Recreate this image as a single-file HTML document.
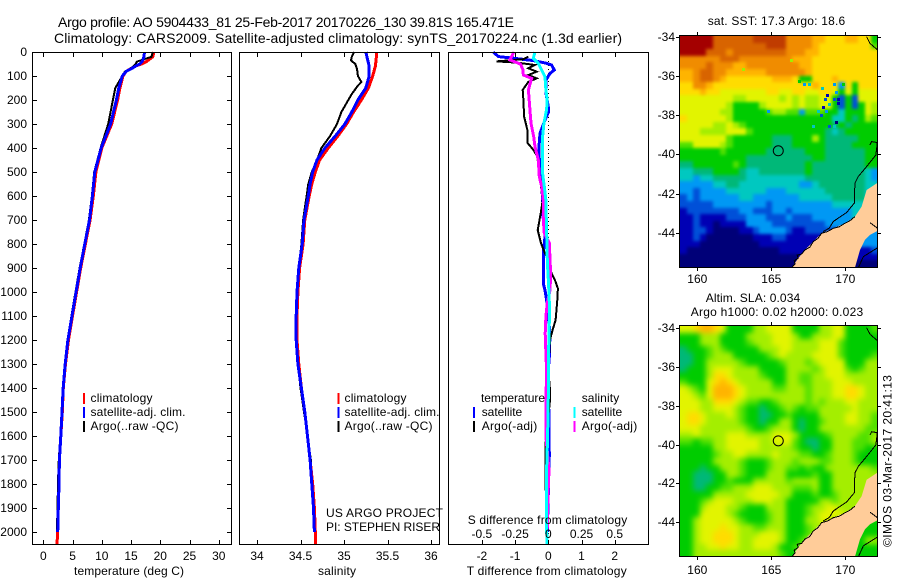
<!DOCTYPE html>
<html>
<head>
<meta charset="utf-8">
<title>Argo profile</title>
<style>
html,body{margin:0;padding:0;background:#fff;}
svg{display:block;}
text{font-family:"Liberation Sans",sans-serif;font-size:12px;fill:#000;}
.t14{font-size:14px;}
</style>
</head>
<body>
<svg id="chart" xmlns="http://www.w3.org/2000/svg" width="900" height="580" viewBox="0 0 900 580">
<defs>
<clipPath id="clip-sst"><rect x="680" y="35" width="198" height="232"/></clipPath>
<clipPath id="clip-sla"><rect x="680" y="326" width="198" height="231"/></clipPath>
<filter id="blur-sst" x="-10%" y="-10%" width="120%" height="120%" color-interpolation-filters="sRGB"><feGaussianBlur stdDeviation="1.6"/></filter>
<filter id="blur-sla" x="-10%" y="-10%" width="120%" height="120%" color-interpolation-filters="sRGB"><feGaussianBlur stdDeviation="2.8"/></filter>
</defs>
<rect x="0" y="0" width="900" height="580" fill="#fff"/>

<text class="t14" x="58" y="27" textLength="456">Argo profile: AO 5904433_81 25-Feb-2017 20170226_130 39.81S 165.471E</text>
<text class="t14" x="54" y="43" textLength="568">Climatology: CARS2009. Satellite-adjusted climatology: synTS_20170224.nc (1.3d earlier)</text>

<g id="marks"></g>

<rect x="32.5" y="52.5" width="199" height="492" fill="none" stroke="#000"/>
<rect x="239.5" y="52.5" width="200" height="492" fill="none" stroke="#000"/>
<rect x="448.5" y="52.5" width="200" height="492" fill="none" stroke="#000"/>
<rect x="679.5" y="35.5" width="198" height="232" fill="none" stroke="#000"/>
<rect x="679.5" y="325.5" width="198" height="231" fill="none" stroke="#000"/>

<text x="74" y="575" textLength="110">temperature (deg C)</text>
<text x="318" y="575" textLength="38">salinity</text>
<text x="466.7" y="575" textLength="160">T difference from climatology</text>
<text x="467.7" y="524" textLength="159.5">S difference from climatology</text>

<g>
<rect x="83" y="393" width="2" height="11" fill="#f00"/>
<rect x="83" y="407" width="2" height="11" fill="#00f"/>
<rect x="83" y="421" width="2" height="11" fill="#000"/>
<text x="90.5" y="402" textLength="62">climatology</text>
<text x="90.5" y="416" textLength="95">satellite-adj. clim.</text>
<text x="90.5" y="430" textLength="88">Argo(..raw -QC)</text>
</g>
<g>
<rect x="337.5" y="393" width="2" height="11" fill="#f00"/>
<rect x="337.5" y="407" width="2" height="11" fill="#00f"/>
<rect x="337.5" y="421" width="2" height="11" fill="#000"/>
<text x="344.5" y="402" textLength="62">climatology</text>
<text x="344.5" y="416" textLength="95">satellite-adj. clim.</text>
<text x="344.5" y="430" textLength="88">Argo(..raw -QC)</text>
</g>
<text x="326" y="517" textLength="117">US ARGO PROJECT</text>
<text x="326" y="531" textLength="114">PI: STEPHEN RISER</text>

<g>
<text x="481" y="402" textLength="64">temperature</text>
<text x="581.7" y="402" textLength="37.5">salinity</text>
<rect x="473" y="407" width="2" height="11" fill="#00f"/>
<rect x="473" y="421" width="2" height="11" fill="#000"/>
<rect x="573.5" y="407" width="2" height="11" fill="#0ff"/>
<rect x="573.5" y="421" width="2" height="11" fill="#f0f"/>
<text x="481.7" y="416" textLength="40.5">satellite</text>
<text x="481.7" y="430" textLength="55.5">Argo(-adj)</text>
<text x="581.7" y="416" textLength="40.5">satellite</text>
<text x="581.7" y="430" textLength="55.5">Argo(-adj)</text>
</g>

<text x="707.7" y="25" textLength="137.5">sat. SST: 17.3 Argo: 18.6</text>
<text x="705.7" y="302" textLength="94.5">Altim. SLA: 0.034</text>
<text x="690.7" y="316" textLength="172.5">Argo h1000: 0.02 h2000: 0.023</text>
<text transform="translate(891.5,547) rotate(-90)" x="0" y="0" textLength="172">©IMOS 03-Mar-2017 20:41:13</text>
</svg>

<script>
// ---- profile data ----
const tempDepths = [0,20,40,50,60,70,80,100,150,200,300,400,500,600,700,800,900,1000,1100,1200,1300,1400,1500,1600,1700,1800,1900,2000,2050];
const tempClimatology = [18.9,18.7,17.6,16.8,15.6,14.9,14.2,13.6,13.1,12.7,11.7,10.0,9.0,8.55,8.0,7.2,6.4,5.7,5.0,4.3,3.8,3.42,3.25,3.0,2.75,2.68,2.57,2.46,2.35];
const tempSatellite = [17.3,17.2,16.9,16.5,15.7,15.0,14.2,13.5,12.9,12.5,11.5,9.9,8.8,8.4,7.9,7.1,6.3,5.6,4.9,4.2,3.75,3.4,3.2,3.0,2.75,2.68,2.57,2.46];
const tempArgo = [18.7,18.5,16.0,15.8,15.4,14.8,14.0,13.5,12.3,11.9,11.1,9.8,8.7,8.3,7.8,7.0,6.2,5.5,4.8,4.2,3.7,3.35,3.15,2.9,2.65,2.5,2.45,2.3];

const salDepths = [0,30,60,100,150,200,250,300,350,400,450,500,550,600,700,800,900,1000,1100,1200,1300,1400,1500,1600,1700,1800,1900,2000,2050];
const salClimatology = [35.375,35.37,35.36,35.33,35.28,35.20,35.11,35.03,34.93,34.82,34.72,34.67,34.63,34.60,34.55,34.53,34.49,34.47,34.46,34.46,34.48,34.51,34.55,34.58,34.61,34.64,34.66,34.67,34.675];
const salSatellite = [35.25,35.27,35.29,35.29,35.25,35.16,35.09,35.01,34.90,34.78,34.69,34.64,34.61,34.59,34.54,34.52,34.48,34.46,34.45,34.45,34.47,34.51,34.55,34.58,34.61,34.63,34.65,34.66];
const salArgoDepths = [0,20,35,50,70,100,125,140,175,200,250,300,350,400,450,500,550,600,700,800,900,1000,1100,1200,1300,1400,1500,1600,1700,1800,1900,1980];
const salArgo = [35.115,35.09,35.08,35.13,35.15,35.16,35.20,35.16,35.09,35.05,34.97,34.92,34.84,34.74,34.69,34.63,34.59,34.57,34.53,34.51,34.48,34.46,34.45,34.45,34.47,34.50,34.54,34.58,34.62,34.63,34.65,34.66];

const diffTSatDepths = [0,19,26,36,47,54,75,89,117,172,228,249,283,339,394,450,519,561,617,700,770,840,964,992,1033,1172,1269,1325,1680,2000];
const diffTSat = [-1.66,-1.5,-1.05,-0.45,-0.05,0.1,0.18,0.05,-0.07,-0.07,0,0.01,-0.1,-0.25,-0.28,-0.27,-0.25,-0.2,-0.17,-0.15,-0.1,-0.15,-0.15,-0.1,-0.05,0.05,0.03,0,0.03,-0.03];
const diffTArgoDepths = [20,30,39,44,54,68,82,96,110,124,158,200,269,325,380,408,436,505,617,672,742,797,839,867,922,950,985,1033,1117,1158,1200,1325,1408,1450,1630,1727,1980];
const diffTArgo = [-0.6,-0.75,-1.56,-0.95,-0.4,-0.6,-0.35,-0.6,-0.35,-0.6,-0.77,-0.75,-0.73,-0.63,-0.62,-0.45,-0.33,-0.27,-0.17,-0.23,-0.32,-0.22,-0.1,0,0.1,0.2,0.29,0.27,0.22,0.13,0.05,0,0.05,0.05,-0.08,-0.08,-0.07];
const diffSSatDepths = [0,26,47,75,103,158,200,240,297,366,436,505,561,617,756,797,853,894,978,1075,1172,1311,1436,1603,1742,1992,2050];
const diffSSat = [-0.10,-0.113,-0.075,-0.05,-0.025,-0.018,-0.008,-0.013,-0.033,-0.045,-0.045,-0.043,-0.03,-0.018,-0.013,-0.008,-0.008,-0.005,0.003,0.01,0.005,0,0,-0.005,-0.013,-0.013,-0.008];
const diffSArgoDepths = [0,19,33,50,75,96,110,124,158,228,297,353,394,450,519,561,617,700,756,797,867,922,992,1047,1103,1172,1256,1325,1464,1603,1742,1853,1992];
const diffSArgo = [-0.26,-0.276,-0.29,-0.21,-0.19,-0.188,-0.125,-0.133,-0.15,-0.14,-0.13,-0.11,-0.1,-0.075,-0.068,-0.05,-0.038,-0.038,-0.03,0.008,0.013,0.018,0.013,-0.008,-0.018,-0.023,-0.018,-0.013,-0.018,-0.018,0.005,-0.003,-0.008];

// ---- axis tick data ----
const depthTicks = [0,100,200,300,400,500,600,700,800,900,1000,1100,1200,1300,1400,1500,1600,1700,1800,1900,2000];
const tempTicks = [0,5,10,15,20,25,30];
const salTicks = [34,34.5,35,35.5,36];
const diffTTicks = [-2,-1,0,1,2];
const diffSTicks = [-0.5,-0.25,0,0.25,0.5];
const diffSTickLabels = ['-0.5','-0.25','0','0.25','0.5'];
const mapLonTicks = [160,165,170];
const mapLatTicks = [-34,-36,-38,-40,-42,-44];

// ---- map data (one letter per cell = colour level a..p) ----
const sstRows = [
"pppppnnnnnnooooommmmllkkkllkkg",
"pppppnnnnnnnnooommmmlkkkkkkkkh",
"ppppnnnmnnnnnnnnmmmllkkkkkkkkk",
"mmmmmmnnnmmmmmmmmlllkkkkkkkkkk",
"mmmmnmmmllmmmmmmmmllkkkkkkkkkk",
"llmnnmmllllllmmmmmmlkkkkkkkkkk",
"llmnnmlkkkkkkklllkggkkklkkkkkk",
"kkmmlkkkkkkkkkkkkkkklkkkdkgkkk",
"kkklkkjjjjjjjkkjjkkjjkkjgjgjjj",
"jjjjjjjjiijjjjjijijiijjgcgcjjj",
"jjjjjjjiggggijjjjijiijjgcgcgji",
"jjjjjjiiggggghiihhdhhhggegggji",
"kjjjjjjigggggggggggggggeegfgih",
"jjjjjiijihgggggggggggggfgfgggg",
"jjjiiiijjjhgggggggggggfefggggg",
"jjjjjjjhggggggfffgggigfffffggg",
"hhjjjjihggggggfffgggggffffgggg",
"gggggghggggggffffffgggffffffgg",
"ggggggggggffffffffffggffffffgg",
"ffgggggghgfffffffffgffffffffgg",
"eefffggggfeefffffffgffffffffed",
"eedeefffffeeeeeeeeefffffffffed",
"dddddeeffeeeeeeeeeddefffffffee",
"ddcddddeeeeeedddeeeeeeffffffee",
"cdcddddddeedddddddeeeeefffffee",
"cccccddddddddcdddddddddeeeeeee",
"bccccccccddcccddcdddddddddeeee",
"bbcbbbbcccdddcccdcccddddddeeee",
"bbcbbabbbbddddccccccccddddddde",
"bbccbaaaabbcddddcbbccccccccddd",
"bbcbaaaaaaabbbccbbbbbbbcccdddd",
"bbbaaaaaaaaabbbbbbbbbcbbcccddd",
"baaaaaaaaaaaaaabbbbbbbbbbbbbbc",
"aaaaaaaaaaaaaaaaaabbbbbbbbbbbb",
"aaaaaaaaaaaaaaaaaabbbbbbbbaaaa"
];
const slaRows = [
"jjkllkjggggiijjjjggggiijjggggh",
"gggiiiggggiiiijjjiggiiijjggggg",
"gggiiigggghiiijjjiiiijjjhggggg",
"fggghihgggggiiijjiiiijjjhggggg",
"ffgghiiiggggghijiiiijjjjhggggh",
"ffggiiiiihggggghiiihijjjjgggii",
"fgggijjjiiiiggggiiiihijjjhghii",
"ggggikkjiiiihgggiihhiijjjiiiii",
"hgggjklkjiiiiiggiihhiiijjjiiii",
"jihgjlllkjiiiihhiiihiiijjkkjii",
"jjihjlllkjiiiiiiiiihiiijjkkjii",
"jjjiikkkjihhgghiiiihihiiijjiii",
"jjjiijjjihggfgghihghhiiiiijiii",
"jkkjiiijihggffgghggggiiiijjiih",
"jkkjiiiiihggfggiigfgghiiijjiih",
"jjjiiiiiiihgghiiigfggiiiiiiihh",
"iijiiiijjjiiiijjjigggghiiiihhi",
"hhghhiijjjjjiijjjhgffggiiihhhi",
"gggggiijjjjjiiiiihggfggiiihhgg",
"ggggghiijjiiiijiiihhgghiiihggg",
"gggggiiiihggghiiihiiihhiiihggg",
"gggfggiiihggghiihhghggiiiiiiih",
"ggfffggiihgggiiigggghggiiiiiii",
"ggfffgghgggiiiiihiiiiggiiiiiii",
"ggffgghhiiijjjiiihhhiggiiiiiii",
"gggggiiiiijjjjjiiggghgghiiiiii",
"ggghijjjiiijjjiigggggiihiiiiii",
"gggijjjiihgggiiiggghiijjiiiiii",
"gggjjjjihgggghiiggghijjjjiiiii",
"ggijjjjjihggghiigggiijjiiiihgg",
"ggijjjkjjiihhiiiggghiiiiiihggg",
"ggijjkkkjiiijjjiggghiiihhggggg",
"ggijjkkkjiijjjjigghiiihhggggii",
"ggiijjkjjiijjjigghhhiggggggggg",
"ggiiiiiiiiiiiiihggggghhggggggg"
];
const speckLon = [166.89,167.23,167.61,168.47,169.30,169.86,169.41,168.78,168.63,169.53,169.30,168.96,168.51,169.53,168.18,168.40,168.74,169.41,168.96,169.30,167.84,164.80,163.11,166.37];
const speckLat = [-36.24,-36.44,-36.44,-36.61,-36.44,-36.44,-36.83,-37.00,-37.21,-37.21,-37.21,-37.46,-37.58,-37.41,-37.81,-37.98,-37.81,-38.37,-38.57,-38.57,-38.57,-37.81,-35.67,-35.19];
const speckLevels = "gdeedgdbcbcebbecdaceedii";
const profileLon = [165.471];
const profileLat = [-39.81];

// ---- coastline (lon/lat pairs) ----
const landLon = [166.37,166.82,167.27,167.84,168.40,169.19,169.98,170.65,171.10,171.44,172.30,172.30,171.67,171.33,170.99,170.65];
const landLat = [-45.80,-45.31,-44.89,-44.46,-44.03,-43.78,-43.52,-43.18,-42.67,-41.82,-41.39,-43.86,-44.12,-44.37,-44.89,-45.80];
const westCoastLon = [166.37,166.60,166.55,166.82,166.75,167.05,167.27,167.60,167.84,168.15,168.40,168.80,169.19,169.60,169.98,170.30,170.65];
const westCoastLat = [-45.80,-45.60,-45.45,-45.31,-45.15,-45.10,-44.89,-44.75,-44.46,-44.30,-44.03,-43.95,-43.78,-43.70,-43.52,-43.40,-43.18];
const innerCoastLon = [171.67,171.78,172.16,172.07,171.44,170.88,170.65,170.61,170.09,169.19,168.92,168.51];
const innerCoastLat = [-39.51,-39.34,-39.39,-40.02,-40.62,-41.13,-41.47,-42.49,-42.97,-43.43,-43.77,-43.95];
const neCoastLon = [171.44,171.67,172.30];
const neCoastLat = [-33.97,-34.31,-34.72];
const seCoastLon = [172.30,171.22,170.88];
const seCoastLat = [-44.72,-45.23,-45.80];
const eastCoastLon = [171.67,172.30];
const eastCoastLat = [-43.49,-43.85];

const palette = {a:'#000078',b:'#0000b4',c:'#0050d8',d:'#0098f4',e:'#00c8c0',f:'#00b878',g:'#00cc00',h:'#50e000',
  i:'#a4ee00',j:'#e2f400',k:'#ffdc00',l:'#ffb400',m:'#f08c00',n:'#d86400',o:'#c03c00',p:'#a40000'};

// ---- axis functions ----
const NS = 'http://www.w3.org/2000/svg';
const root = document.getElementById('marks');
const yDepth = d => 52 + d * 0.24;
const xTemp = v => 43.3 + v * 5.85;
const xSal = v => 257 + (v - 34) * 87;
const xDiffT = v => 548.3 + v * 33.2;
const xDiffS = v => 548.3 + v * 132.8;
const lonX = lon => 697.3 + (lon - 160) * 14.8;
const latY1 = lat => 37.3 + (-34 - lat) * 19.53;
const latY2 = lat => 328.3 + (-34 - lat) * 19.37;

function svgEl(tag, parent) {
  const el = document.createElementNS(NS, tag);
  (parent || root).appendChild(el);
  return el;
}
function pointsOf(xs, ys, fx, fy) {
  const n = Math.min(xs.length, ys.length);
  const out = [];
  for (let i = 0; i < n; i++) out.push(fx(xs[i]).toFixed(1) + ',' + fy(ys[i]).toFixed(1));
  return out.join(' ');
}
function profile(values, depths, fx, color, width) {
  const el = svgEl('polyline');
  el.setAttribute('points', pointsOf(values, depths, fx, yDepth));
  el.setAttribute('fill', 'none');
  el.setAttribute('stroke', color);
  el.setAttribute('stroke-width', width);
  el.setAttribute('shape-rendering', 'crispEdges');
  return el;
}
function tickLine(x1, y1, x2, y2) {
  const el = svgEl('line');
  el.setAttribute('x1', x1);
  el.setAttribute('y1', y1);
  el.setAttribute('x2', x2);
  el.setAttribute('y2', y2);
  el.setAttribute('stroke', '#000');
  el.setAttribute('shape-rendering', 'crispEdges');
  
  
  return el;
}
function tickText(x, y, str, anchor) {
  const el = svgEl('text');
  el.setAttribute('x', x);
  el.setAttribute('y', y);
  el.setAttribute('text-anchor', anchor);
  el.textContent = str;
  
  
  return el;
}

// ---- maps ----
function drawMap(rows, top, height, clipId, filterId, mapName) {
  const g = svgEl('g');
  g.setAttribute('clip-path', 'url(#' + clipId + ')');
  
  
  const cells = svgEl('g', g);
  cells.setAttribute('filter', 'url(#' + filterId + ')');
  
  
  const left = 680, width = 198, bleed = 10;
  rows.forEach((row, r) => {
    let y0 = Math.round(top + r * height / rows.length);
    let y1 = Math.round(top + (r + 1) * height / rows.length);
    if (r === 0) y0 -= bleed;
    if (r === rows.length - 1) y1 += bleed;
    for (let c = 0; c < row.length; c++) {
      let x0 = Math.round(left + c * width / row.length);
      let x1 = Math.round(left + (c + 1) * width / row.length);
      if (c === 0) x0 -= bleed;
      if (c === row.length - 1) x1 += bleed;
      const cell = svgEl('rect', cells);
      cell.setAttribute('x', x0);
      cell.setAttribute('y', y0);
      cell.setAttribute('width', x1 - x0);
      cell.setAttribute('height', y1 - y0);
      cell.setAttribute('fill', palette[row[c]]);
      
      
    }
  });
  return g;
}
function coast(g, lons, lats, fy, name) {
  const el = svgEl('polyline', g);
  el.setAttribute('points', pointsOf(lons, lats, lonX, fy));
  el.setAttribute('fill', 'none');
  el.setAttribute('stroke', '#000');
  el.setAttribute('stroke-width', '1');
  el.setAttribute('shape-rendering', 'crispEdges');
  
  
}
function decorateMap(g, fy) {
  const land = svgEl('polygon', g);
  land.setAttribute('points', pointsOf(landLon, landLat, lonX, fy));
  land.setAttribute('fill', '#ffcc99');
  
  
  coast(g, westCoastLon, westCoastLat, fy, 'west-coastline');
  coast(g, innerCoastLon, innerCoastLat, fy, 'contour-line');
  coast(g, neCoastLon, neCoastLat, fy, 'north-east-coastline');
  coast(g, seCoastLon, seCoastLat, fy, 'south-east-coastline');
  coast(g, eastCoastLon, eastCoastLat, fy, 'east-coastline');
  const dot = svgEl('circle', g);
  dot.setAttribute('cx', lonX(profileLon[0]));
  dot.setAttribute('cy', fy(profileLat[0]));
  dot.setAttribute('r', 5);
  dot.setAttribute('fill', 'none');
  dot.setAttribute('stroke', '#000');
  
  
}
const sstMap = drawMap(sstRows, 36, 231, 'clip-sst', 'blur-sst', 'sst-map');
speckLevels.split('').forEach((lev, i) => {
  const s = svgEl('rect', sstMap);
  s.setAttribute('x', Math.round(lonX(speckLon[i]) - 1.5));
  s.setAttribute('y', Math.round(latY1(speckLat[i]) - 1.5));
  s.setAttribute('width', 3);
  s.setAttribute('height', 3);
  s.setAttribute('fill', palette[lev]);
  
  
});
decorateMap(sstMap, latY1);
const slaMap = drawMap(slaRows, 326, 231, 'clip-sla', 'blur-sla', 'sla-map');
decorateMap(slaMap, latY2);

// ---- profile lines ----
let line;
line = profile(tempClimatology, tempDepths, xTemp, '#f00', 3);


line = profile(tempArgo, tempDepths, xTemp, '#000', 2);


line = profile(tempSatellite, tempDepths, xTemp, '#00f', 3);



line = profile(salClimatology, salDepths, xSal, '#f00', 3);


line = profile(salArgo, salArgoDepths, xSal, '#000', 2);


line = profile(salSatellite, salDepths, xSal, '#00f', 3);



const zeroLine = svgEl('line');
zeroLine.setAttribute('x1', 548.5);
zeroLine.setAttribute('x2', 548.5);
zeroLine.setAttribute('y1', 53);
zeroLine.setAttribute('y2', 544);
zeroLine.setAttribute('stroke', '#000');
zeroLine.setAttribute('stroke-dasharray', '1 3');
zeroLine.setAttribute('shape-rendering', 'crispEdges');



line = profile(diffTSat, diffTSatDepths, xDiffT, '#00f', 3);


line = profile(diffTArgo, diffTArgoDepths, xDiffT, '#000', 2);


line = profile(diffSArgo, diffSArgoDepths, xDiffS, '#f0f', 3);


line = profile(diffSSat, diffSSatDepths, xDiffS, '#0ff', 3);



// ---- ticks and labels ----
depthTicks.forEach(d => {
  const y = Math.round(yDepth(d)) + 0.5;
  tickLine(33, y, 37, y);
  tickLine(227, y, 231, y);
  tickText(27, Math.round(yDepth(d)) + 4, String(d), 'end');
});
tempTicks.forEach(v => {
  const x = Math.round(xTemp(v)) + 0.5;
  tickLine(x, 53, x, 57);
  tickLine(x, 540, x, 544);
  tickText(xTemp(v), 560, String(v), 'middle');
});
salTicks.forEach(v => {
  const x = Math.round(xSal(v)) + 0.5;
  tickLine(x, 53, x, 57);
  tickLine(x, 540, x, 544);
  tickText(xSal(v), 560, String(v), 'middle');
});
diffTTicks.forEach(v => {
  const x = Math.round(xDiffT(v)) + 0.5;
  tickLine(x, 53, x, 57);
  tickLine(x, 540, x, 544);
  tickText(xDiffT(v), 560, String(v), 'middle');
});
diffSTicks.forEach((v, i) => {
  tickText(xDiffS(v), 538, diffSTickLabels[i], 'middle');
});
function mapAxes(fy, top, bottom, labelY) {
  mapLonTicks.forEach(lon => {
    const x = Math.round(lonX(lon)) + 0.5;
    tickLine(x, top - 3, x, top);
    tickLine(x, bottom, x, bottom + 3);
    tickText(lonX(lon), labelY, String(lon), 'middle');
  });
  mapLatTicks.forEach(lat => {
    const y = Math.round(fy(lat)) + 0.5;
    tickLine(676, y, 679, y);
    tickLine(878, y, 881, y);
    tickText(675, Math.round(fy(lat)) + 4, String(lat), 'end');
  });
}
mapAxes(latY1, 35, 268, 283);
mapAxes(latY2, 325, 557, 574);
</script>
</body>
</html>
